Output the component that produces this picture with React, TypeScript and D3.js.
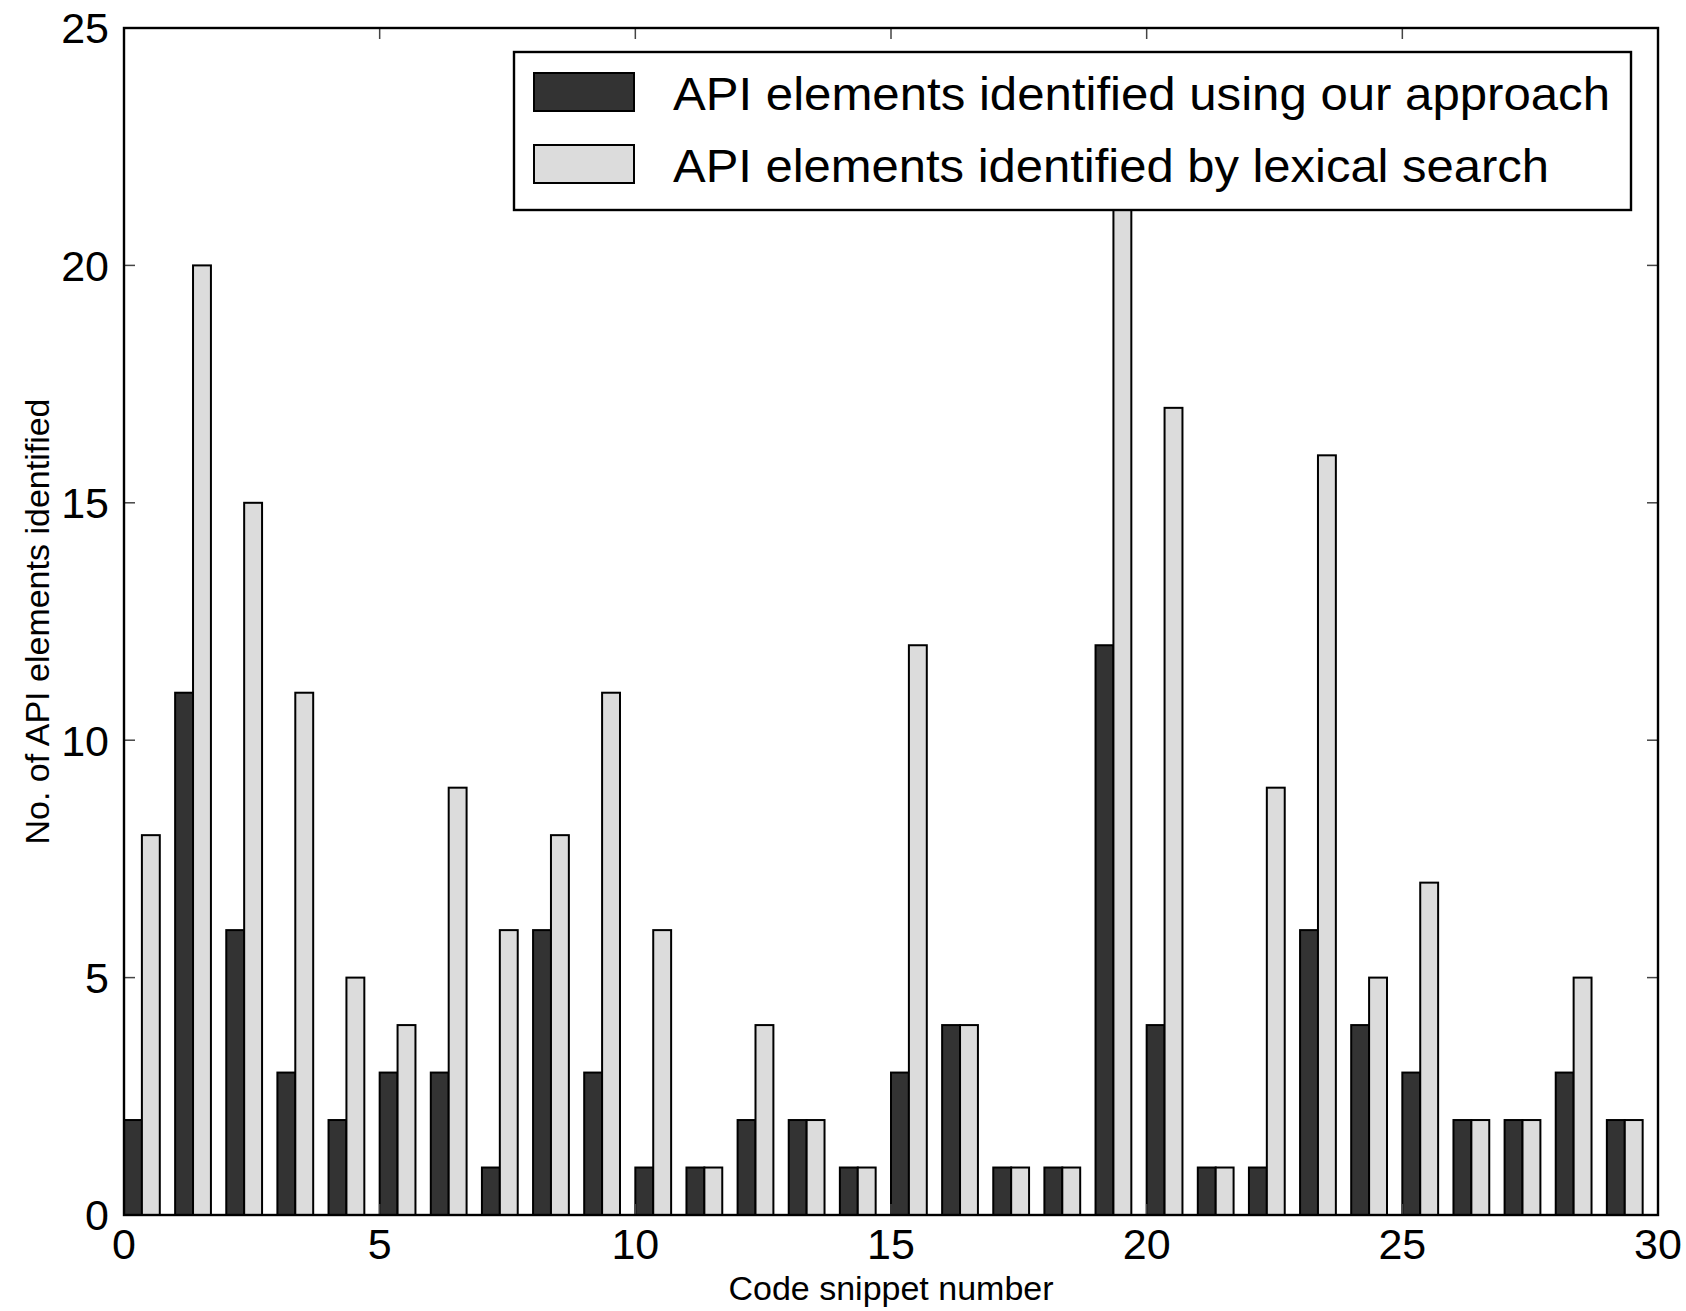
import React from "react";
import * as d3 from "d3";

// values (snippet 19 light bar is hidden under the legend)
const snippets = d3.range(0, 30);
const ourApproach = [2, 11, 6, 3, 2, 3, 3, 1, 6, 3, 1, 1, 2, 2, 1, 3, 4, 1, 1, 12, 4, 1, 1, 6, 4, 3, 2, 2, 3, 2];
const lexicalSearch = [8, 20, 15, 11, 5, 4, 9, 6, 8, 11, 6, 1, 4, 2, 1, 12, 4, 1, 1, 23, 17, 1, 9, 16, 5, 7, 2, 2, 5, 2];
const xTicks = [0, 5, 10, 15, 20, 25, 30];
const yTicks = [0, 5, 10, 15, 20, 25];
const seriesNames = [
  "API elements identified using our approach",
  "API elements identified by lexical search",
];
const seriesColors = ["#333333", "#dcdcdc"];

const W = 1686;
const H = 1311;
const margin = { top: 28, right: 28, bottom: 96, left: 124 };
const font = "'Liberation Sans', Arial, Helvetica, sans-serif";

export default function App() {
  const x = d3.scaleLinear().domain([0, 30]).range([margin.left, W - margin.right]);
  const y = d3.scaleLinear().domain([0, 25]).range([H - margin.bottom, margin.top]);
  const barW = 0.35;
  const tickLen = 11;

  const bars = [ourApproach, lexicalSearch].flatMap((vals, s) =>
    snippets.map((i) => {
      const x0 = x(i + s * barW);
      const x1 = x(i + (s + 1) * barW);
      return (
        <rect
          key={s + "-" + i}
          x={x0}
          y={y(vals[i])}
          width={x1 - x0}
          height={y(0) - y(vals[i])}
          fill={seriesColors[s]}
          stroke="#000"
          strokeWidth={2}
        />
      );
    })
  );

  const [xl, xr] = x.range();
  const [yb, yt] = y.range();

  return (
    <svg width={W} height={H} style={{ position: "absolute", left: 0, top: 0, background: "#fff" }}>
      <rect x={0} y={0} width={W} height={H} fill="#fff" />
      {bars}
      {/* ticks, inside on all four sides */}
      {xTicks.map((t) => (
        <g key={"xt" + t} stroke="#444" strokeWidth={1.5}>
          <line x1={x(t)} x2={x(t)} y1={yb} y2={yb - tickLen} />
          <line x1={x(t)} x2={x(t)} y1={yt} y2={yt + tickLen} />
        </g>
      ))}
      {yTicks.map((t) => (
        <g key={"yt" + t} stroke="#444" strokeWidth={1.5}>
          <line x1={xl} x2={xl + tickLen} y1={y(t)} y2={y(t)} />
          <line x1={xr} x2={xr - tickLen} y1={y(t)} y2={y(t)} />
        </g>
      ))}
      <rect x={xl} y={yt} width={xr - xl} height={yb - yt} fill="none" stroke="#000" strokeWidth={2.4} />
      {/* tick labels */}
      {xTicks.map((t) => (
        <text key={"xl" + t} x={x(t)} y={yb + 44} textAnchor="middle" fontFamily={font} fontSize={43}>
          {t}
        </text>
      ))}
      {yTicks.map((t) => (
        <text
          key={"yl" + t}
          x={xl - 15}
          y={y(t)}
          dy="0.36em"
          textAnchor="end"
          fontFamily={font}
          fontSize={43}
        >
          {t}
        </text>
      ))}
      {/* axis titles */}
      <text x={(xl + xr) / 2} y={1300} textAnchor="middle" fontFamily={font} fontSize={34}>
        Code snippet number
      </text>
      <text
        transform={`translate(49,${(yb + yt) / 2}) rotate(-90)`}
        textAnchor="middle"
        fontFamily={font}
        fontSize={34}
      >
        No. of API elements identified
      </text>
      {/* legend */}
      <g>
        <rect x={514} y={52} width={1117} height={158} fill="#fff" stroke="#000" strokeWidth={2.4} />
        {seriesNames.map((name, s) => (
          <g key={name}>
            <rect
              x={534}
              y={73 + s * 72}
              width={100}
              height={38}
              fill={seriesColors[s]}
              stroke="#000"
              strokeWidth={2}
            />
            <text
              x={673}
              y={110 + s * 72}
              fontFamily={font}
              fontSize={46}
              textLength={s === 0 ? 937 : 876}
              lengthAdjust="spacingAndGlyphs"
            >
              {name}
            </text>
          </g>
        ))}
      </g>
    </svg>
  );
}
